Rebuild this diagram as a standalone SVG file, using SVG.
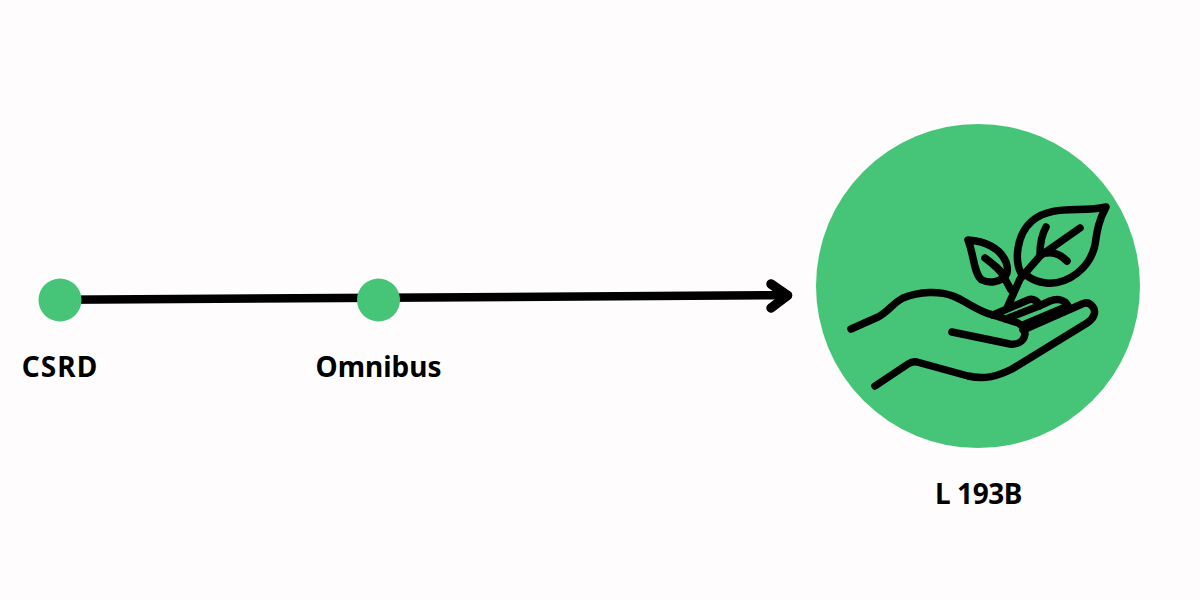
<svg xmlns="http://www.w3.org/2000/svg" width="1200" height="600" viewBox="0 0 1200 600">
<style>
.dot{fill:#46c578}
.lbl{font-family:"Noto Sans","Open Sans",sans-serif;font-weight:700;font-size:28px;fill:#000;text-anchor:middle}
.ink{fill:none;stroke:#000;stroke-linecap:round;stroke-linejoin:round}
</style>
<rect width="1200" height="600" fill="#fefcfd"/>
<g id="connectors">
<path class="ink" stroke-width="8.500" d="M60 299.800L788 295.200"/>
<path class="ink" stroke-width="9.500" d="M771 284L787.500 295.500L771 308"/>
</g>
<g id="node-csrd">
<circle class="dot" cx="60" cy="300" r="21.500"/>
<text class="lbl" x="60" y="377" style="letter-spacing:1px">CSRD</text>
</g>
<g id="node-omnibus">
<circle class="dot" cx="378.500" cy="300" r="21.500"/>
<text class="lbl" x="378.500" y="377">Omnibus</text>
</g>
<g id="node-l193b">
<circle class="dot" cx="978" cy="286" r="162"/>
<g class="ink" stroke-width="7.500">
<path d="M851 329L878 317C888 312 893 303 903 298C920 291 940 291 953 296C966 301 977 311 993 315L1018 323C1024 326 1025 330 1025 334C1024 341 1018 345 1010 344L952 332"/>
<path d="M875 386L908 364C911 362 913 361 917 362L968 376C985 380 998 376 1012 369L1087 323C1095 318 1096 311 1093 307C1090 303 1086 302 1082 304L1023 330"/>
<path d="M993 315L1007 309L1028 300C1033 298 1038 301 1039 306L1006 319"/>
<path d="M1039 306L1050 301C1058 298 1065 300 1068 306L1023 325"/>
<path d="M1007 308L1020 279L1040 256L1080 228"/>
<path d="M1040 254C1040 245 1041 236 1046 227"/>
<path d="M1047 253C1054 252 1061 255 1067 261"/>
<path d="M1022 275C1014 262 1016 235 1032 221C1052 204 1080 213 1106 207C1098 222 1097 232 1095 245C1090 268 1068 285 1046 283C1037 282 1031 279 1026 275"/>
<path d="M968 240C985 241 1000 248 1006 262C1008 268 1008 272 1006 275C1000 282 990 284 982 280C974 275 974 255 968 240Z"/>
<path d="M985 258C993 264 1001 270 1004 277L1011 290"/>
</g>
<text class="lbl" x="978.500" y="504" style="letter-spacing:-.4px">L 193B</text>
</g>
</svg>
